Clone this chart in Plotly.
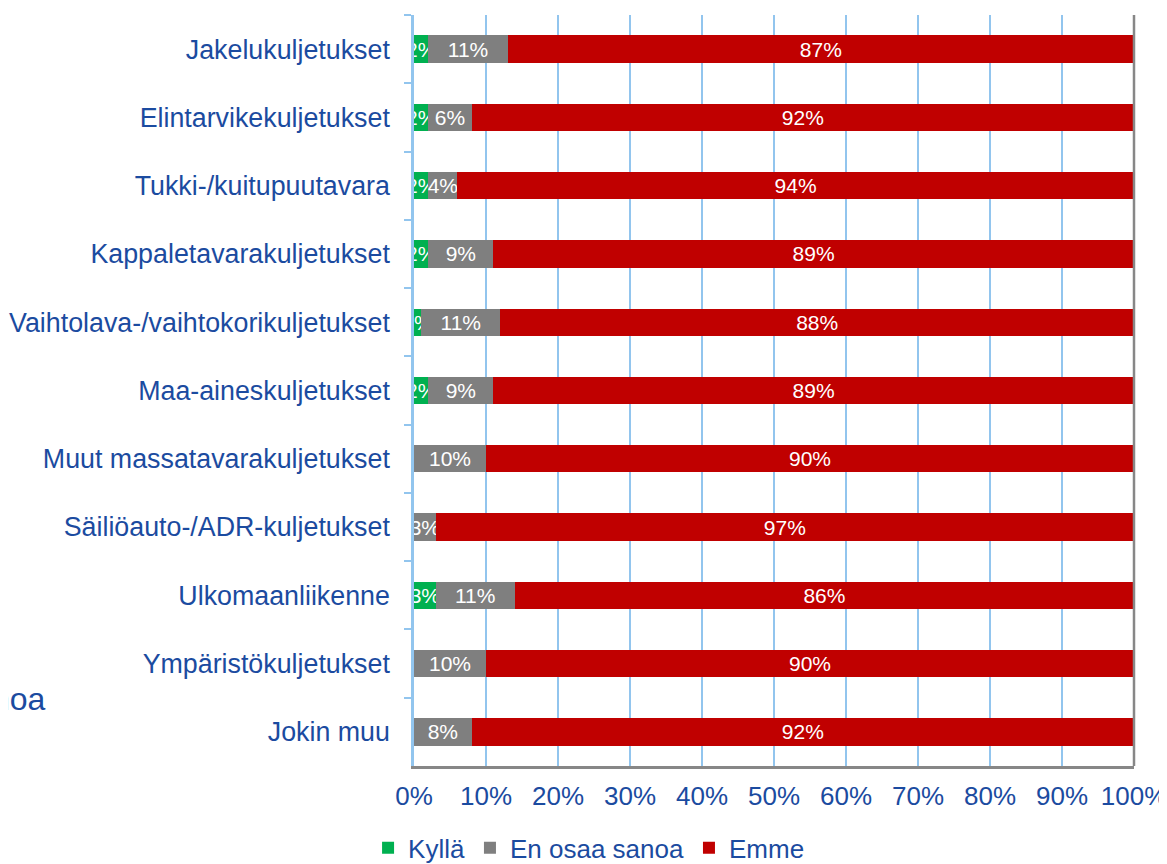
import plotly.graph_objects as go

categories = [
    "Jakelukuljetukset",
    "Elintarvikekuljetukset",
    "Tukki-/kuitupuutavara",
    "Kappaletavarakuljetukset",
    "Vaihtolava-/vaihtokorikuljetukset",
    "Maa-aineskuljetukset",
    "Muut massatavarakuljetukset",
    "Säiliöauto-/ADR-kuljetukset",
    "Ulkomaanliikenne",
    "Ympäristökuljetukset",
    "Jokin muu",
]
kylla = [2, 2, 2, 2, 1, 2, 0, 0, 3, 0, 0]
en_osaa = [11, 6, 4, 9, 11, 9, 10, 3, 11, 10, 8]
emme = [87, 92, 94, 89, 88, 89, 90, 97, 86, 90, 92]
x_ticks = [0, 10, 20, 30, 40, 50, 60, 70, 80, 90, 100]

series = [
    ("Kyllä", kylla, "#00B050"),
    ("En osaa sanoa", en_osaa, "#7F7F7F"),
    ("Emme", emme, "#C00000"),
]

BLUE_TXT = "#1B4BA0"
LIGHT = "#92C5EE"
GRAY_LINE = "#878787"
FONT = "Liberation Sans, Arial, sans-serif"

fig = go.Figure()
for name, vals, col in series:
    fig.add_trace(go.Bar(
        name=name, y=categories, x=vals, orientation="h",
        marker=dict(color=col, line=dict(width=0)),
        text=[f"{v}%" if v else "" for v in vals],
        textposition="inside", insidetextanchor="middle",
        textangle=0, constraintext="none",
        textfont=dict(color="white", size=21, family=FONT),
        cliponaxis=True, hoverinfo="skip",
    ))

fig.update_layout(
    barmode="stack", bargap=0.6,
    width=1159, height=856,
    margin=dict(l=406, r=33, t=7, b=98, autoexpand=False),
    paper_bgcolor="white", plot_bgcolor="white",
    font=dict(family=FONT, color=BLUE_TXT, size=26),
    uniformtext=dict(minsize=21, mode="show"),
    showlegend=True,
    legend=dict(orientation="h", x=-0.0638, xanchor="left", y=-0.109, yanchor="middle",
                font=dict(size=26, color=BLUE_TXT, family=FONT), traceorder="normal",
                itemclick=False),
    xaxis=dict(range=[0, 100], tickvals=x_ticks, ticktext=[f"{t}%" for t in x_ticks],
               showgrid=True, gridcolor=LIGHT, gridwidth=2, zeroline=False,
               showline=True, linecolor=GRAY_LINE, linewidth=2.5, automargin=False,
               ticks="", ticklabelstandoff=5, ticklabeloverflow="allow",
               tickfont=dict(size=26, color=BLUE_TXT, family=FONT), fixedrange=True),
    xaxis2=dict(range=[0, 100], tickvals=x_ticks, overlaying="x", side="top", anchor="y",
                showline=True, linecolor=LIGHT, linewidth=2, automargin=False,
                ticks="outside", ticklen=7, tickwidth=2, tickcolor=LIGHT,
                showticklabels=False, showgrid=False, zeroline=False),
    yaxis=dict(autorange="reversed", showline=True, linecolor=LIGHT, linewidth=2.5,
               ticks="outside", tickson="boundaries", ticklen=7, tickwidth=2, tickcolor=LIGHT,
               showgrid=False, ticklabelstandoff=16, automargin=False,
               tickfont=dict(size=26.8, color=BLUE_TXT, family=FONT)),
    shapes=[dict(type="line", xref="paper", yref="paper", x0=1, x1=1, y0=0, y1=1,
                 line=dict(color=GRAY_LINE, width=2.5), layer="above")],
    annotations=[dict(text="noa", xref="paper", yref="paper", x=-0.5083, y=0.089,
                      xanchor="right", yanchor="middle", showarrow=False,
                      font=dict(size=32, color=BLUE_TXT, family=FONT))],
)

fig.write_html("out.html")
